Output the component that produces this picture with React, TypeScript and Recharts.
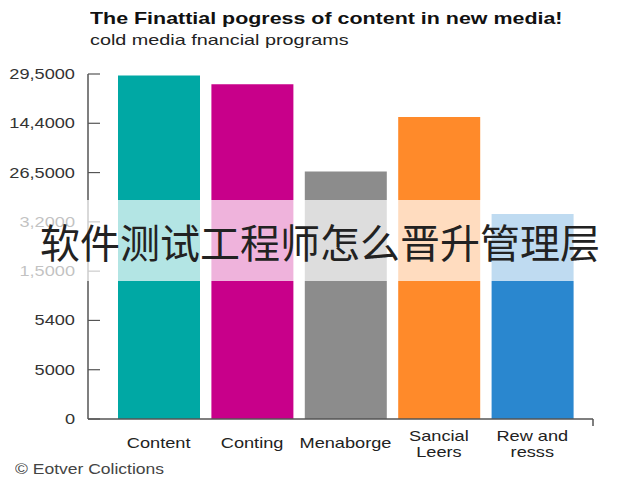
import React from "react";
import * as Recharts from "recharts";
import { BarChart, Bar, XAxis, YAxis, Cell } from "recharts";

const categories = ["Content", "Conting", "Menaborge", "Sancial\nLeers", "Rew and\nresss"];
const values = [6.97, 6.79, 5.02, 6.13, 4.16];
const colors = ["#00A8A4", "#C8008A", "#8C8C8C", "#FF8A2A", "#2A87CF"];
const yTickValues = [0, 1, 2, 3, 4, 5, 6, 7];
const yTickLabels = ["0", "5000", "5400", "1,5000", "3,2000", "26,5000", "14,4000", "29,5000"];
const title = "The Finattial pogress of content in new media!";
const subtitle = "cold media fnancial programs";
const footer = "\u00A9 Eotver Colictions";
const banner = "软件测试工程师怎么晋升管理层";

const data = categories.map((c, i) => ({ name: c, value: values[i] }));

const FONT = "'Liberation Sans', Arial, sans-serif";
const STRETCH = 1.3;

const YTick = (props: any) => {
  const { x, y, payload } = props;
  return (
    <text
      transform={`translate(${x},${y}) scale(${STRETCH},1)`}
      x={0}
      y={0}
      dy={5}
      textAnchor="end"
      fontFamily={FONT}
      fontSize={14}
      fill="#333"
    >
      {yTickLabels[payload.value]}
    </text>
  );
};

const XTick = (props: any) => {
  const { x, y, payload } = props;
  const lines = String(payload.value).split("\n");
  const start = lines.length === 1 ? 21 : 14;
  return (
    <text
      transform={`translate(${x},${y}) scale(${STRETCH},1)`}
      x={0}
      y={0}
      textAnchor="middle"
      fontFamily={FONT}
      fontSize={14}
      fill="#222"
    >
      {lines.map((l, i) => (
        <tspan key={i} x={0} y={start + i * 16}>
          {l}
        </tspan>
      ))}
    </text>
  );
};

const usePlot: any = (Recharts as any).usePlotArea;

const AxisEndTick = () => {
  const area = usePlot ? usePlot() : null;
  if (!area) return null;
  const xr = area.x + area.width;
  const yb = area.y + area.height;
  return <line x1={xr} x2={xr} y1={yb} y2={yb + 7} stroke="#555" strokeWidth={1.5} />;
};

export default function App() {
  return (
    <div style={{ position: "absolute", left: 0, top: 0, width: 640, height: 480, background: "#fff", overflow: "hidden" }}>
      <div
        style={{
          position: "absolute",
          left: 90,
          top: 9,
          fontFamily: FONT,
          fontWeight: "bold",
          fontSize: 17,
          color: "#111",
          whiteSpace: "nowrap",
          transform: "scaleX(1.26)",
          transformOrigin: "left",
        }}
      >
        {title}
      </div>
      <div
        style={{
          position: "absolute",
          left: 90,
          top: 31,
          fontFamily: FONT,
          fontSize: 15,
          color: "#222",
          whiteSpace: "nowrap",
          transform: "scaleX(1.32)",
          transformOrigin: "left",
        }}
      >
        {subtitle}
      </div>
      <div style={{ position: "absolute", left: 0, top: 0 }}>
        <BarChart width={640} height={480} data={data} margin={{ top: 74, right: 47, bottom: 0, left: 0 }} barSize={82}>
          <YAxis
            type="number"
            domain={[0, 7]}
            ticks={yTickValues}
            interval={0}
            width={88}
            tickSize={-12}
            tickMargin={25}
            tick={<YTick />}
            axisLine={{ stroke: "#555", strokeWidth: 1.5 }}
            tickLine={{ stroke: "#555", strokeWidth: 1.2 }}
          />
          <XAxis
            dataKey="name"
            height={61}
            interval={0}
            padding={{ left: 24, right: 14 }}
            tickLine={false}
            tick={<XTick />}
            axisLine={{ stroke: "#555", strokeWidth: 1.5 }}
          />
          <Bar dataKey="value" isAnimationActive={false}>
            {data.map((d, i) => (
              <Cell key={d.name} fill={colors[i]} />
            ))}
          </Bar>
          <AxisEndTick />
        </BarChart>
      </div>
      <div
        style={{
          position: "absolute",
          left: 15,
          top: 461,
          fontFamily: FONT,
          fontSize: 14,
          color: "#444",
          whiteSpace: "nowrap",
          transform: "scaleX(1.25)",
          transformOrigin: "left",
        }}
      >
        {footer}
      </div>
      <div
        style={{
          position: "absolute",
          left: 0,
          top: 200,
          width: 640,
          height: 81,
          background: "rgba(255,255,255,0.7)",
          display: "flex",
          alignItems: "center",
          justifyContent: "center",
          fontFamily: "'Noto Sans CJK SC', sans-serif",
          fontSize: 40,
          color: "#222",
          whiteSpace: "nowrap",
        }}
      >
        {banner}
      </div>
    </div>
  );
}
